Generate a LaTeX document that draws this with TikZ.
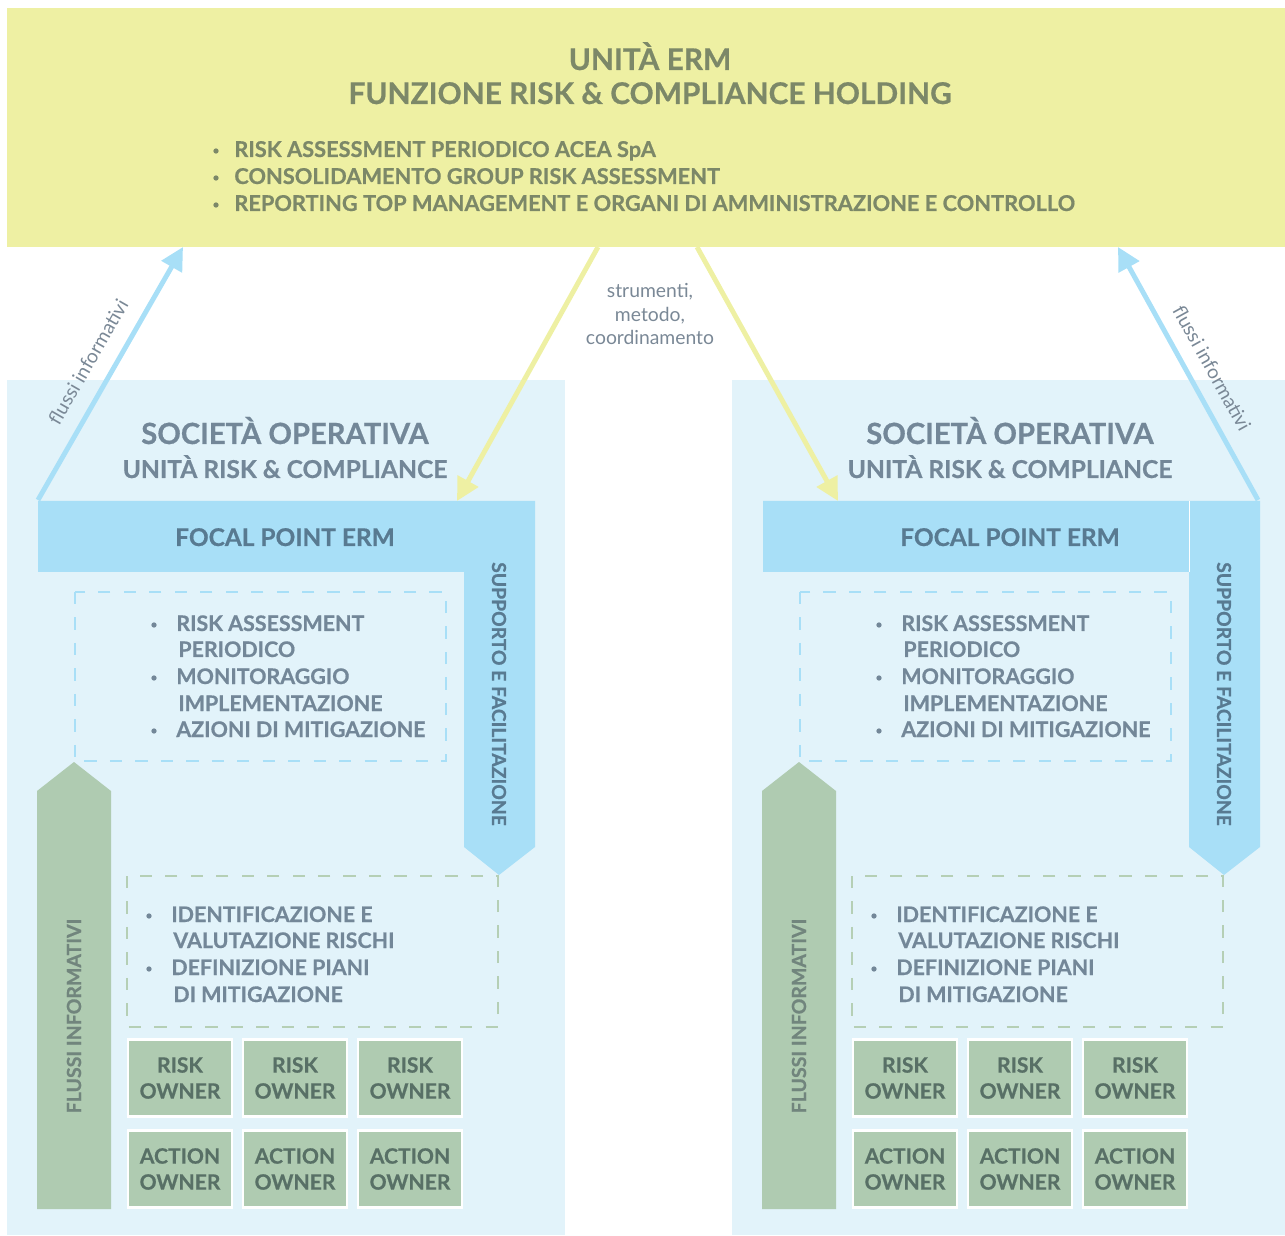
\documentclass[tikz,border=0pt]{standalone}
\usepackage{fontspec}
\setmainfont{Lato}[BoldFeatures={FakeBold=0.6}]
\usetikzlibrary{arrows.meta}
\definecolor{ermyellow}{RGB}{238,240,163}
\definecolor{panelblue}{RGB}{226,243,250}
\definecolor{focalblue}{RGB}{168,223,247}
\definecolor{ermgreen}{RGB}{175,203,177}
\definecolor{dashgreen}{RGB}{181,207,181}
\definecolor{olivetext}{RGB}{124,136,104}
\definecolor{slatetext}{RGB}{115,135,152}
\definecolor{focaltext}{RGB}{88,122,145}
\definecolor{ownertext}{RGB}{88,112,102}
\definecolor{flowtext}{RGB}{122,136,150}
\begin{document}
\begin{tikzpicture}[x=0.02cm,y=-0.02cm,
    txt/.style={inner sep=0pt,anchor=base west,font=\bfseries\fontsize{12.2}{14}\selectfont,text=slatetext},
    dot/.style={circle,fill=slatetext,inner sep=0pt,minimum size=3pt},
    owner/.style={fill=ermgreen,draw=white,line width=1.4pt,minimum width=2.08cm,minimum height=1.54cm,
        inner sep=0pt,align=center,text=ownertext,font=\bfseries\fontsize{12}{14.8}\selectfont},
    flow/.style={inner sep=0pt,text=flowtext,font=\fontsize{11}{13.6}\selectfont},
    bigarrow/.style={line width=2.8pt,-{Triangle[length=13pt,width=13pt]}}]
    \useasboundingbox (0,0) rectangle (1285,1236);
    %% holding
    \fill[ermyellow] (7,8) rectangle (1285,247);
    \node[anchor=base,inner sep=0pt,text=olivetext,font=\bfseries\fontsize{17}{18}\selectfont] (ermA) at (650,70) {UNITÀ ERM};
    \node[anchor=base,inner sep=0pt,text=olivetext,font=\bfseries\fontsize{17}{18}\selectfont] (ermB) at (650,104) {FUNZIONE RISK \& COMPLIANCE HOLDING};
    \foreach \t/\y in {RISK ASSESSMENT PERIODICO ACEA SpA/157,CONSOLIDAMENTO GROUP RISK ASSESSMENT/184,REPORTING TOP MANAGEMENT E ORGANI DI AMMINISTRAZIONE E CONTROLLO/211} {
        \node[dot,fill=olivetext] (dotH\y) at (216,\y-6) {};
        \node[txt,text=olivetext,font=\bfseries\fontsize{12.4}{14}\selectfont] (lineH\y) at (234,\y) {\t};
    }
    %% the two operating companies
    \foreach \dx/\w in {0/558,725/553} {
        \begin{scope}[shift={(\dx,0)}]
            \fill[panelblue] (7,380) rectangle ++(\w,855);
            \node[anchor=base,inner sep=0pt,text=slatetext,font=\bfseries\fontsize{16.6}{18}\selectfont] (soc\dx) at (285,444) {SOCIETÀ OPERATIVA};
            \node[anchor=base,inner sep=0pt,text=slatetext,font=\bfseries\fontsize{14}{16}\selectfont] (unit\dx) at (285,478) {UNITÀ RISK \& COMPLIANCE};
            %% focal point
            \fill[focalblue] (38,501) -| (535,847) -- (499,875) -- (464,847) |- (38,572) -- cycle;
            \node[anchor=base,inner sep=0pt,text=focaltext,font=\bfseries\fontsize{13.9}{16}\selectfont] (focal\dx) at (285,546) {FOCAL POINT ERM};
            \node[rotate=-90,inner sep=0pt,text=focaltext,font=\bfseries\fontsize{11}{12}\selectfont] (supp\dx) at (499,694) {SUPPORTO E FACILITAZIONE};
            \draw[focalblue,line width=1.3pt,dash pattern=on 7pt off 7.5pt] (75,592) rectangle (446,761);
            \foreach \t/\y in {RISK ASSESSMENT/631,MONITORAGGIO/684,AZIONI DI MITIGAZIONE/737}
                \node[dot] (dotF\dx-\y) at (154,\y-6) {};
            \foreach \t/\y in {RISK ASSESSMENT/631,MONITORAGGIO/684,AZIONI DI MITIGAZIONE/737}
                \node[txt] (lineF\dx-\y) at (176,\y) {\t};
            \foreach \t/\y in {PERIODICO/657,IMPLEMENTAZIONE/711}
                \node[txt] (lineF\dx-\y) at (178,\y) {\t};
            %% flussi informativi
            \fill[ermgreen] (37,1209) -- (37,791) -- (74,762) -- (111,791) -- (111,1209) -- cycle;
            \node[rotate=90,inner sep=0pt,text=ownertext!85!white,font=\bfseries\fontsize{11.1}{12}\selectfont] (flussi\dx) at (74,1016) {FLUSSI INFORMATIVI};
            \draw[dashgreen,line width=1.3pt,dash pattern=on 7pt off 7.5pt] (127,876) rectangle (498,1027);
            \foreach \y in {922,975}
                \node[dot] (dotG\dx-\y) at (149,\y-6) {};
            \foreach \t/\y in {IDENTIFICAZIONE E/922,DEFINIZIONE PIANI/975}
                \node[txt] (lineG\dx-\y) at (171,\y) {\t};
            \foreach \t/\y in {VALUTAZIONE RISCHI/948,DI MITIGAZIONE/1002}
                \node[txt] (lineG\dx-\y) at (173,\y) {\t};
            %% owners
            \foreach \x in {180,295,410} {
                \node[owner] (risk\dx-\x) at (\x,1078) {RISK\\OWNER};
                \node[owner] (action\dx-\x) at (\x,1169) {ACTION\\OWNER};
            }
        \end{scope}
    }
    \draw[white,line width=0.6pt] (1189.5,501) -- (1189.5,572);
    %% arrows
    \coordinate (inL) at (38,500);
    \coordinate (outL) at (183,247);
    \coordinate (inR) at (1258,500);
    \coordinate (outR) at (1118,247);
    \coordinate (fromL) at (598,247);
    \coordinate (toL) at (457,501);
    \coordinate (fromR) at (697,247);
    \coordinate (toR) at (838,501);
    \draw[bigarrow,focalblue] (inL) -- (outL);
    \draw[bigarrow,focalblue] (inR) -- (outR);
    \draw[bigarrow,ermyellow] (fromL) -- (toL);
    \draw[bigarrow,ermyellow] (fromR) -- (toR);
    \node[flow,rotate=60] (flowL) at (88,362) {flussi informativi};
    \node[flow,rotate=-61] (flowR) at (1212,368) {flussi informativi};
    \node[flow,align=center] (tools) at (650,314) {strumenti,\\metodo,\\coordinamento};
\end{tikzpicture}
\end{document}
